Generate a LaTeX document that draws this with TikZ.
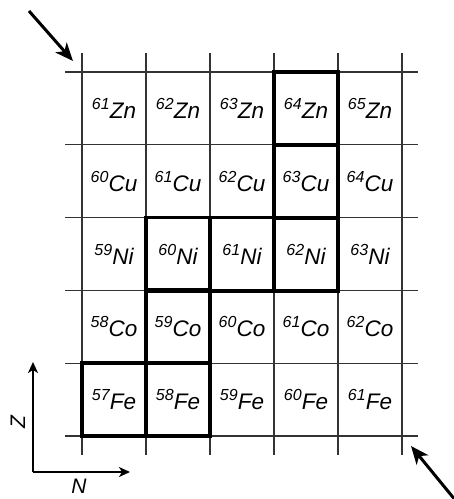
\documentclass[tikz,border=0pt]{standalone}
\usepackage{fontspec}
\setmainfont{Liberation Sans}
\usetikzlibrary{arrows.meta}

\newcommand\iso[2]{\raisebox{0.4em}{\fontsize{16}{16}\selectfont#1}#2}

\begin{document}
\begin{tikzpicture}[x=1pt,y=-1pt,
	cell/.style={minimum width=64pt,minimum height=72.8pt,inner sep=0pt,font=\fontsize{22.5}{24}\selectfont\itshape},
	hl/.style={draw,line width=3.8pt},
	gridline/.style={line width=1.2pt,black!80},
	bigarrow/.style={line width=3pt,-{Stealth[length=18pt,width=15pt,inset=5pt]}},
	axis/.style={line width=1.7pt,-{Stealth[length=11pt,width=10pt,inset=3pt]}},
	axislabel/.style={font=\fontsize{21}{24}\selectfont\itshape,inner sep=0pt,anchor=base}]
		\useasboundingbox (0,0) rectangle (454,499);

		\foreach \x in {82,146,210,274,338,402}
			\draw [gridline] (\x,53) -- (\x,455);
		\foreach \y in {72,144.8,217.6,290.4,363.2,436}
			\draw [gridline] (65,\y) -- (418,\y);

		\foreach \el/\m [count=\r] in {Zn/61,Cu/60,Ni/59,Co/58,Fe/57}
			\foreach \c in {0,...,4} {
				\pgfmathtruncatemacro\a{\m+\c}
				\node (\el\a)[cell] at (114+64*\c, 108.4+72.8*\r-72.8) {\iso{\a}{\el}};
			}

		\foreach \n in {Zn64,Cu63,Ni60,Ni61,Ni62,Co59,Fe57,Fe58}
			\draw [hl] (\n.south west) rectangle (\n.north east);

		\coordinate (intail) at (29,11);
		\coordinate (inhead) at (73,61);
		\coordinate (outtail) at (456,501);
		\coordinate (outhead) at (411,446);
		\draw [bigarrow] (intail) -- (inhead);
		\draw [bigarrow] (outtail) -- (outhead);

		\coordinate (origin) at (33,472);
		\coordinate (zend) at (33,362);
		\coordinate (nend) at (130,472);
		\draw [axis] (origin) -- (zend);
		\draw [axis] (origin) -- (nend);
		\node (zlabel)[axislabel, rotate=90] at (25,422) {Z};
		\node (nlabel)[axislabel] at (79,493) {N};
	\end{tikzpicture}
\end{document}
